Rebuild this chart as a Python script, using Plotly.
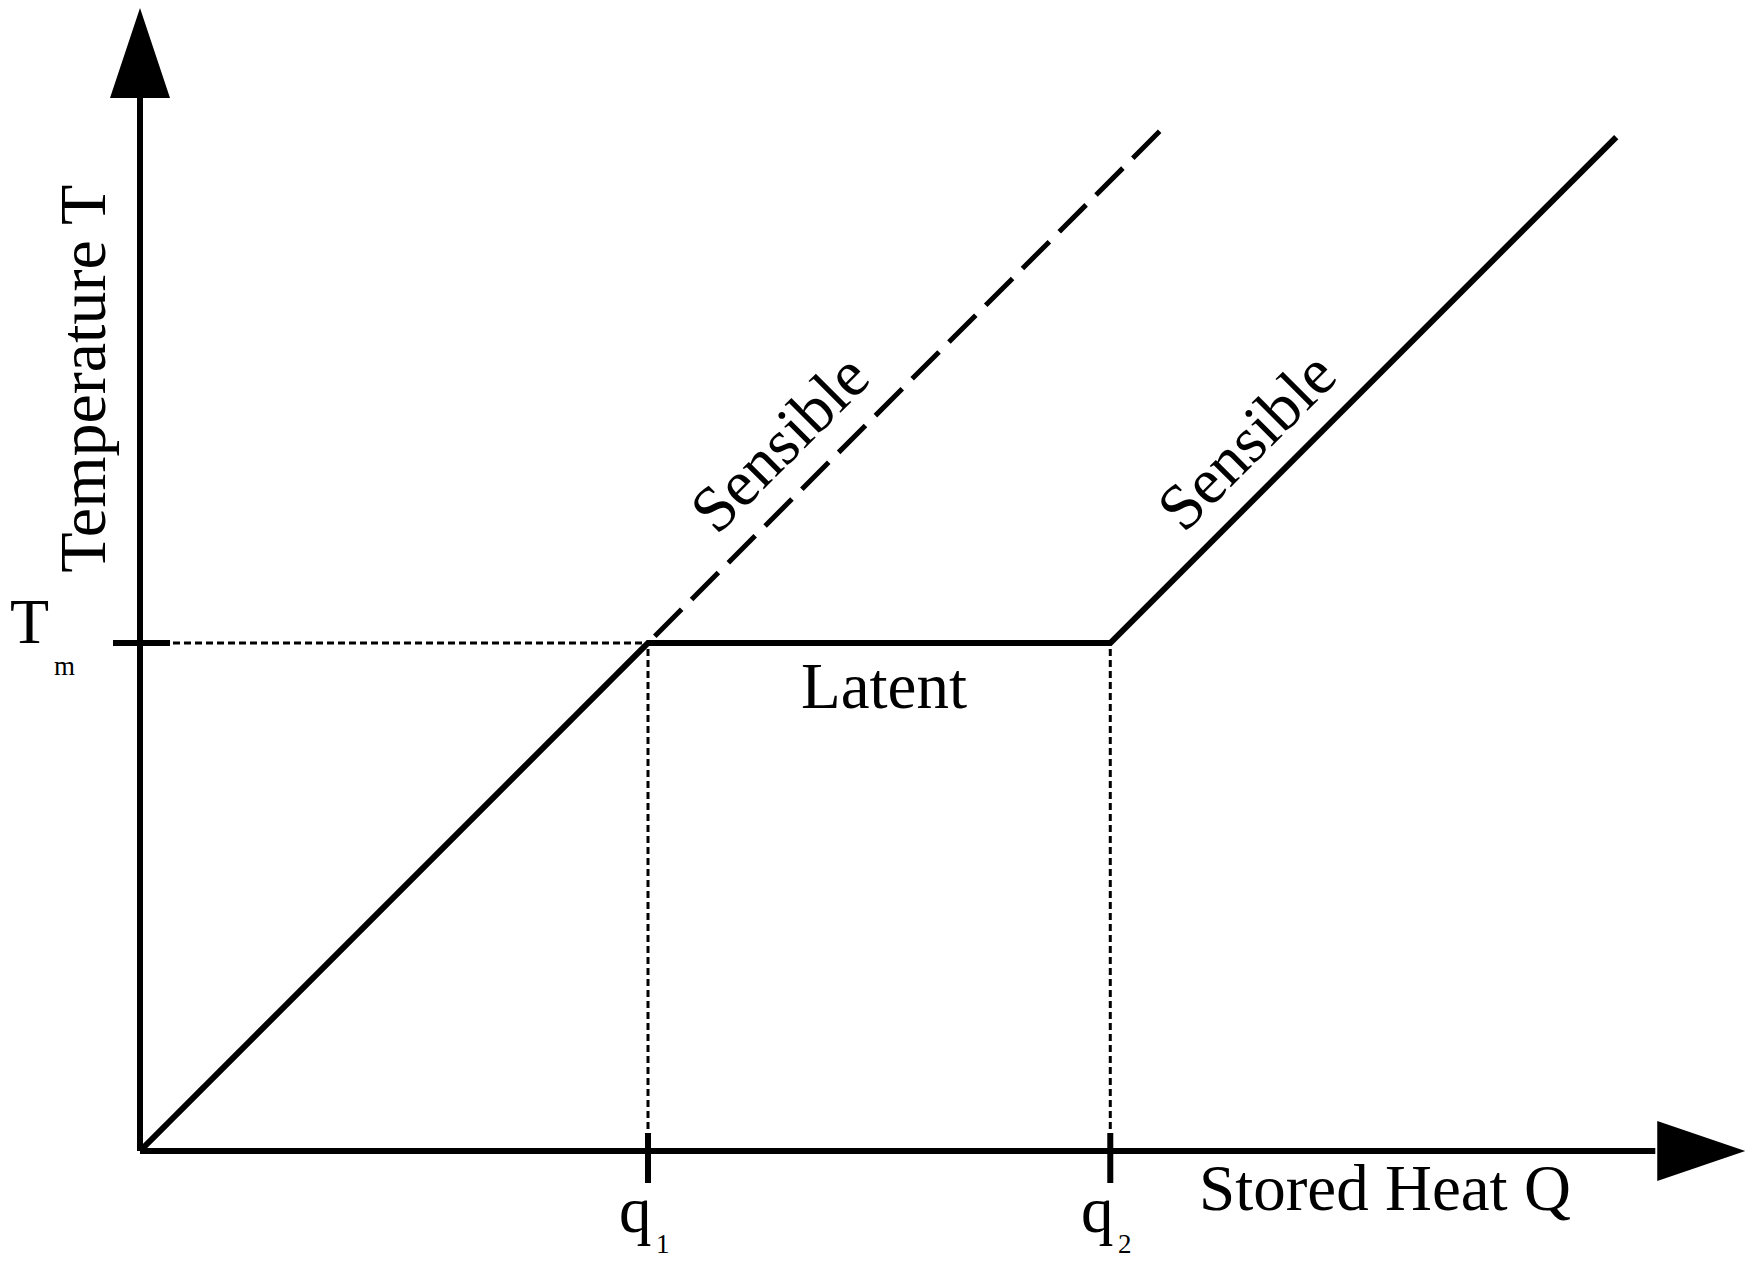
import plotly.graph_objects as go

# melting point and phase-change bounds (Tm = 1 unit)
T_M = 1.0
Q1 = 1.0
Q2 = 1.91

# latent-heat material: sensible -> latent plateau -> sensible
PCM_Q = [0.0, 1.0, 1.91, 2.906]
PCM_T = [0.0, 1.0, 1.0, 1.996]

# purely sensible material
SENS_Q = [0.0, 2.02]
SENS_T = [0.0, 2.02]

# axis extents (arrow tips)
X_END = 3.16
Y_END = 2.25

W, H = 1757, 1267
U = 508.0            # pixels per data unit
X0, Y0 = 132, 1143   # origin in pixels (page body adds 8px)
FONT = "Liberation Serif"

x_range = [-X0 / U, (W - X0) / U]
y_range = [-(H - Y0) / U, Y0 / U]
px = 1.0 / U

fig = go.Figure()

# guide lines (dotted)
dotted = dict(color="black", width=3, dash="7px,4px")
for q in (Q1, Q2):
    fig.add_trace(go.Scatter(x=[q, q], y=[0, T_M], mode="lines",
                             line=dotted, hoverinfo="skip"))
fig.add_trace(go.Scatter(x=[0, Q1], y=[T_M, T_M], mode="lines",
                         line=dotted, hoverinfo="skip"))

# sensible-only (dashed)
fig.add_trace(go.Scatter(x=SENS_Q, y=SENS_T, mode="lines",
                         line=dict(color="black", width=5, dash="38px,14px"),
                         hoverinfo="skip"))
# PCM curve (solid)
fig.add_trace(go.Scatter(x=PCM_Q, y=PCM_T, mode="lines",
                         line=dict(color="black", width=6),
                         hoverinfo="skip"))

shapes = []
# axes
shapes.append(dict(type="line", x0=0, y0=0, x1=X_END - 90 * px, y1=0,
                   line=dict(color="black", width=6)))
shapes.append(dict(type="line", x0=0, y0=0, x1=0, y1=Y_END - 90 * px,
                   line=dict(color="black", width=6)))
# arrow heads
ax_b = X_END - 88 * px
shapes.append(dict(type="path", fillcolor="black", line=dict(width=0),
                   path=f"M {ax_b} {30*px} L {X_END} 0 L {ax_b} {-30*px} Z"))
ay_b = Y_END - 90 * px
shapes.append(dict(type="path", fillcolor="black", line=dict(width=0),
                   path=f"M {-30*px} {ay_b} L 0 {Y_END} L {30*px} {ay_b} Z"))
# ticks
shapes.append(dict(type="line", x0=-27 * px, x1=30 * px, y0=T_M, y1=T_M,
                   line=dict(color="black", width=6)))
for q in (Q1, Q2):
    shapes.append(dict(type="line", x0=q, x1=q, y0=18 * px, y1=-32 * px,
                       line=dict(color="black", width=6)))

ann = []
def label(text, x, y, size=65, angle=0, xs=0, ys=0, xa="center"):
    ann.append(dict(text=text, x=x, y=y, xref="x", yref="y", showarrow=False,
                    textangle=angle, xshift=xs, yshift=ys, xanchor=xa,
                    font=dict(family=FONT, size=size, color="black")))

label("Temperature T", 0, 1.52, size=66, angle=-90, xs=-57)
label("Stored Heat Q", 2.451, 0, ys=-37)
label("Latent", (Q1 + Q2) / 2, T_M, xs=5, ys=-43)
label("Sensible", 1.258, 1.394, angle=-45)
label("Sensible", 2.177, 1.398, angle=-45)
label("T", 0, T_M, size=64, xs=-X0, ys=22, xa="left")
label("m", 0, T_M, size=27, xs=-76, ys=-23)
for q, sub in ((Q1, "1"), (Q2, "2")):
    label("q", q, 0, xs=-13, ys=-59)
    label(sub, q, 0, size=27, xs=15, ys=-93)

fig.update_layout(
    width=W, height=H,
    margin=dict(l=0, r=0, t=0, b=0),
    paper_bgcolor="white", plot_bgcolor="white",
    showlegend=False,
    xaxis=dict(range=x_range, visible=False, fixedrange=True),
    yaxis=dict(range=y_range, visible=False, fixedrange=True),
    shapes=shapes, annotations=ann,
)

fig.write_html("out.html")
